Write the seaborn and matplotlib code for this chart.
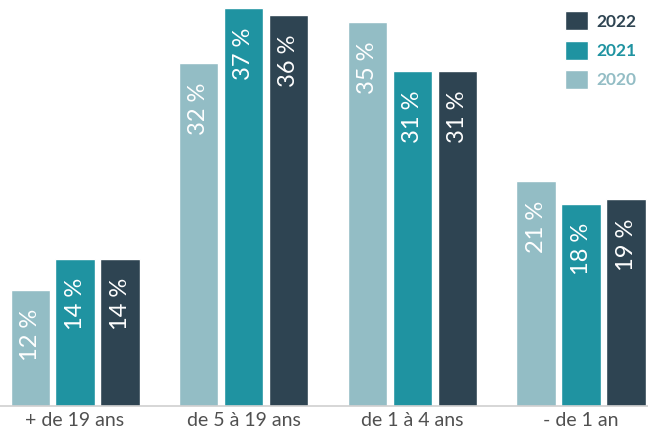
import pandas as pd
import seaborn as sns
import matplotlib.pyplot as plt
from matplotlib.patches import Patch

# data (bar heights as drawn, labels as printed)
categories = ['+ de 19 ans', 'de 5 à 19 ans', 'de 1 à 4 ans', '- de 1 an']
years = ['2020', '2021', '2022']
heights_2020 = [10.8, 31.9, 35.7, 20.9]
heights_2021 = [13.7, 37.0, 31.1, 18.8]
heights_2022 = [13.7, 36.3, 31.1, 19.2]
labels_2020 = ['12 %', '32 %', '35 %', '21 %']
labels_2021 = ['14 %', '37 %', '31 %', '18 %']
labels_2022 = ['14 %', '36 %', '31 %', '19 %']

colors = {'2020': '#93bdc5', '2021': '#1f93a1', '2022': '#2e4452'}

df = pd.DataFrame({
    'age': categories * 3,
    'year': ['2020'] * 4 + ['2021'] * 4 + ['2022'] * 4,
    'pct': heights_2020 + heights_2021 + heights_2022,
})
bar_labels = [labels_2020, labels_2021, labels_2022]

sns.set_style('white')
plt.rcParams['font.family'] = ['Lato', 'DejaVu Sans']

fig = plt.figure(figsize=(6.48, 4.34), dpi=100)
ax = fig.add_axes([0, 28 / 434, 1, 406 / 434])

sns.barplot(data=df, x='age', y='pct', hue='year', hue_order=years,
            order=categories, palette=colors, width=0.8, gap=0.13,
            saturation=1, legend=False, ax=ax)

# percentage labels inside the bars
for container, labs in zip(ax.containers, bar_labels):
    for bar, lab in zip(container, labs):
        h = bar.get_height()
        ax.annotate(lab, xy=(bar.get_x() + bar.get_width() / 2, h),
                    xytext=(0, -14), textcoords='offset points',
                    rotation=90, ha='center', va='top',
                    color='white', fontsize=17)

ax.set_xlim(-0.445, 3.397)
ax.set_ylim(0, 406 / 10.76)
ax.set_xlabel('')
ax.set_ylabel('')
ax.set_yticks([])
ax.tick_params(axis='x', length=0, pad=4, labelsize=14, labelcolor='#505050')
for s in ['top', 'left', 'right']:
    ax.spines[s].set_visible(False)
ax.spines['bottom'].set_color('#cfcfcf')
ax.spines['bottom'].set_linewidth(1.2)

# legend, newest year first
handles = [Patch(facecolor=colors[y], label=y) for y in years[::-1]]
leg = ax.legend(handles=handles, loc='upper right', bbox_to_anchor=(1.0, 1.0),
                frameon=False, handlelength=1.3, handleheight=1.3,
                handletextpad=0.5, labelspacing=0.6, borderaxespad=0.25,
                prop={'weight': 'bold', 'size': 12.5})
for txt, y in zip(leg.get_texts(), years[::-1]):
    txt.set_color(colors[y])

fig.savefig('out.png', dpi=100)
